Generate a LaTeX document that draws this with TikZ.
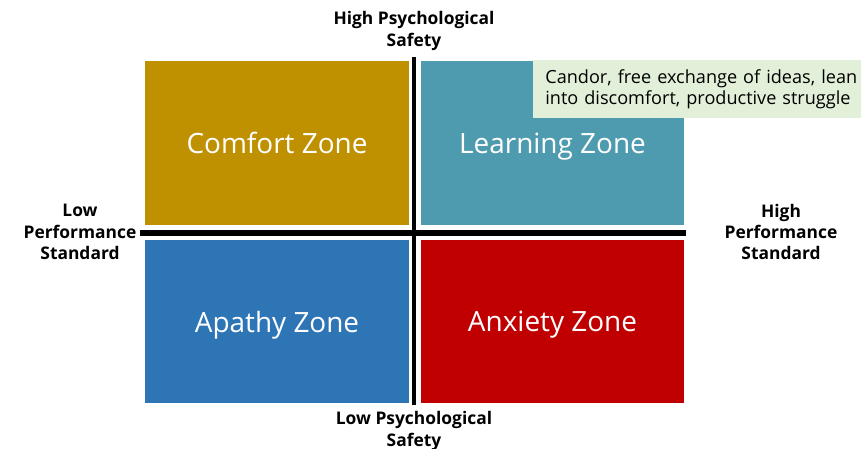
\documentclass[tikz,border=0pt]{standalone}
\usepackage{fontspec}
\setmainfont{Open Sans}
\usetikzlibrary{positioning}
\definecolor{comfortgold}{HTML}{BF9000}
\definecolor{learnteal}{HTML}{4E9BB0}
\definecolor{apathyblue}{HTML}{2E75B6}
\definecolor{anxietyred}{HTML}{C00000}
\definecolor{notegreen}{HTML}{E2F0D9}

\begin{document}
\begin{tikzpicture}[x=0.02cm,y=-0.02cm]
\tikzstyle{every node}+=[inner sep=0pt]
\tikzstyle{zone}=[minimum width=5.28cm, minimum height=3.28cm, text depth=0pt, text=white, font=\fontsize{15.9}{19}\selectfont]
\tikzstyle{axislabel}=[align=center, font=\bfseries\fontsize{9.9}{12.2}\selectfont]
\useasboundingbox (0,0) rectangle (861,449);
% quadrants
\node [zone, fill=comfortgold] (comfort) at (277,143) {Comfort Zone};
\node [zone, fill=learnteal] (learning) at (552.5,143) {Learning Zone};
\node [zone, fill=apathyblue] (apathy) at (277,321.5) {Apathy Zone};
\node [zone, fill=anxietyred] (anxiety) at (552.5,321.5) {Anxiety Zone};
% axes
\coordinate (ytop) at (414,57);
\coordinate (ybot) at (414,405);
\coordinate (xleft) at (140,233);
\coordinate (xright) at (686,233);
\draw [line width=2.3pt] (ytop) -- (ybot);
\draw [line width=3.4pt] (xleft) -- (xright);
% axis labels
\node [axislabel] (highsafe) at (414,31) {High Psychological\\Safety};
\node [axislabel] (lowsafe) at (414,431) {Low Psychological\\Safety};
\node [axislabel] (lowperf) at (80,232) {Low\\Performance\\Standard};
\node [axislabel] (highperf) at (781,232) {High\\Performance\\Standard};
% note
\node [anchor=north west, fill=notegreen, inner xsep=0.24cm, text width=6.6cm,
  minimum height=1.16cm, align=left, font=\fontsize{10.3}{11.6}\selectfont] (note) at (533,60)
  {Candor, free exchange of ideas, lean\\into discomfort, productive struggle};
\end{tikzpicture}
\end{document}
